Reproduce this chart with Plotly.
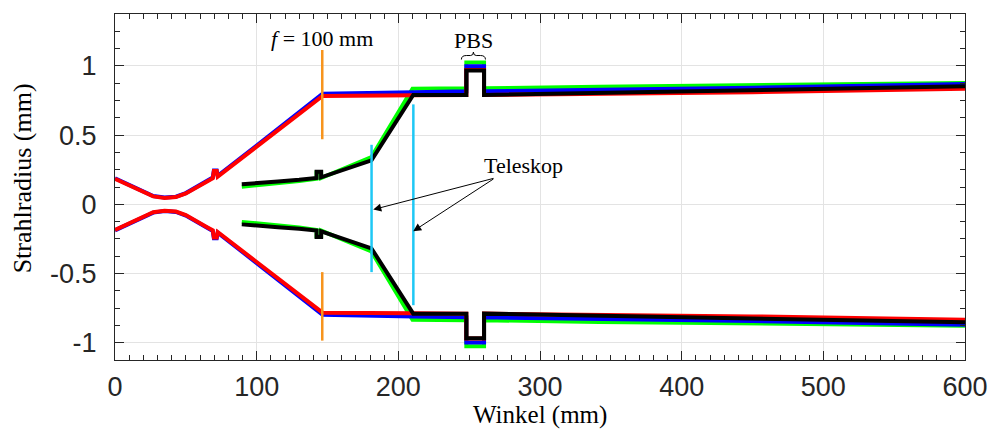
import plotly.graph_objects as go

# ---------------- data ----------------
# beam 1 (red / blue): beam radius r(z) in mm, drawn as +r and -r
z_beam1 = [0, 10, 20, 27, 35, 43, 50, 57, 65, 69, 69.8, 71.8, 72.5, 100, 146.5,
           211, 248, 248, 260.5, 260.5, 342, 450, 600]
r_red = [0.185, 0.135, 0.085, 0.057, 0.046, 0.052, 0.078, 0.115, 0.165, 0.188, 0.24,
         0.24, 0.2, 0.417, 0.783, 0.788, 0.79, 0.97, 0.97, 0.79, 0.797, 0.81, 0.835]
r_blue = [0.188, 0.138, 0.088, 0.06, 0.049, 0.055, 0.081, 0.119, 0.17, 0.193, 0.245,
          0.245, 0.205, 0.425, 0.799, 0.81, 0.817, 0.998, 0.998, 0.817, 0.826, 0.843, 0.87]

# beam 2 (green / black)
z_green = [89.5, 100, 115, 130, 142.3, 142.3, 145.5, 145.5, 181, 210, 248, 248,
           260.5, 260.5, 342, 450, 600]
r_green = [0.127, 0.137, 0.152, 0.168, 0.185, 0.23, 0.23, 0.19, 0.341, 0.835, 0.838,
           1.025, 1.025, 0.838, 0.85, 0.862, 0.877]
z_black = [89.5, 100, 115, 130, 142.3, 142.3, 145.5, 145.5, 181, 210.5, 248, 248,
           260.5, 260.5, 342, 450, 600]
r_black = [0.145, 0.151, 0.165, 0.177, 0.19, 0.236, 0.236, 0.195, 0.318, 0.79, 0.79,
           0.967, 0.967, 0.79, 0.806, 0.825, 0.853]

# optical elements
lens_f_z = 146.3
lens_f_upper = [0.47, 1.115]
lens_f_lower = [-0.49, -0.985]
tele_z = [181.1, 210.6]
tele_top = [0.43, 0.722]
tele_bottom = [-0.49, -0.729]

x_ticks = [0, 100, 200, 300, 400, 500, 600]
x_tick_text = ["0", "100", "200", "300", "400", "500", "600"]
y_ticks = [-1, -0.5, 0, 0.5, 1]
y_tick_text = ["-1", "-0.5", "0", "0.5", "1"]

# ---------------- figure ----------------
def both_edges(z, r):
    return list(z) + [None] + list(z), list(r) + [None] + [-v for v in r]

fig = go.Figure()
for z, r, col in [(z_green, r_green, "#00FF00"), (z_beam1, r_blue, "#0000FF"),
                  (z_beam1, r_red, "#FF0000"), (z_black, r_black, "#000000")]:
    xs, ys = both_edges(z, r)
    fig.add_trace(go.Scatter(x=xs, y=ys, mode="lines",
                             line=dict(color=col, width=4), showlegend=False,
                             hoverinfo="skip"))

fig.add_trace(go.Scatter(x=[lens_f_z, lens_f_z, None, lens_f_z, lens_f_z],
                         y=lens_f_upper + [None] + lens_f_lower, mode="lines",
                         line=dict(color="#F7941D", width=2.5), showlegend=False))
tx, ty = [], []
for zz, t, b in zip(tele_z, tele_top, tele_bottom):
    tx += [zz, zz, None]
    ty += [t, b, None]
fig.add_trace(go.Scatter(x=tx, y=ty, mode="lines",
                         line=dict(color="#1EC8F5", width=2.5), showlegend=False))

serif = "Liberation Serif"
axis_col = "#262626"
common = dict(showline=True, linecolor=axis_col, linewidth=1, mirror="allticks",
              ticks="inside", ticklen=9, tickcolor=axis_col, tickwidth=1,
              showgrid=True, gridcolor="#E3E3E3", gridwidth=1, zeroline=False,
              tickfont=dict(family="Liberation Sans", size=27, color=axis_col),
              tickmode="array", automargin=False)

fig.update_xaxes(range=[0, 600], tickvals=x_ticks, ticktext=x_tick_text,
                 ticklabelstandoff=3,
                 minor=dict(tickmode="linear", tick0=0, dtick=10, ticks="inside",
                            ticklen=5, tickcolor=axis_col, showgrid=False),
                 **common)
fig.update_yaxes(range=[-1.125, 1.375], tickvals=y_ticks, ticktext=y_tick_text,
                 ticklabelstandoff=12,
                 minor=dict(tickmode="linear", tick0=0, dtick=0.125, ticks="inside",
                            ticklen=5, tickcolor=axis_col, showgrid=False),
                 **common)

ann = []
# axis titles
ann.append(dict(text="Winkel (mm)", xref="paper", yref="paper", x=0.5, y=0,
                yshift=-55, xanchor="center", yanchor="middle", showarrow=False,
                font=dict(family=serif, size=25, color="#000000")))
ann.append(dict(text="Strahlradius (mm)", xref="paper", yref="paper", x=0, y=0.525,
                xshift=-93, xanchor="center", yanchor="middle", textangle=-90,
                showarrow=False, font=dict(family=serif, size=26, color="#000000")))
# labels
ann.append(dict(text="<i>f</i> = 100 mm", x=146.4, y=1.197, xref="x", yref="y",
                showarrow=False, xanchor="center", yanchor="middle",
                font=dict(family=serif, size=22, color="#000000")))
ann.append(dict(text="PBS", x=252.9, y=1.185, xref="x", yref="y", showarrow=False,
                xanchor="center", yanchor="middle",
                font=dict(family=serif, size=22, color="#000000")))
ann.append(dict(text="Teleskop", x=288.4, y=0.28, xref="x", yref="y", showarrow=False,
                xanchor="center", yanchor="middle",
                font=dict(family=serif, size=22, color="#000000")))
for hx, hy in [(182.3, -0.038), (210.5, -0.194)]:
    ann.append(dict(text="", x=hx, y=hy, ax=268.2, ay=0.19, xref="x", yref="y",
                    axref="x", ayref="y", showarrow=True, arrowhead=2, arrowsize=1.6,
                    arrowwidth=1, arrowcolor="#000000", standoff=0, startstandoff=0))

brace = ("M 244.5,1.046 Q 244.5,1.075 248,1.075 L 251,1.075 Q 253,1.075 253,1.10 "
         "Q 253,1.075 255,1.075 L 258,1.075 Q 261.5,1.075 261.5,1.046")
fig.add_shape(type="path", path=brace, xref="x", yref="y",
              line=dict(color="#000000", width=1))

fig.update_layout(width=988, height=432, margin=dict(l=115, r=23, t=14, b=72),
                  plot_bgcolor="white", paper_bgcolor="white", annotations=ann)

fig.write_html("out.html")
